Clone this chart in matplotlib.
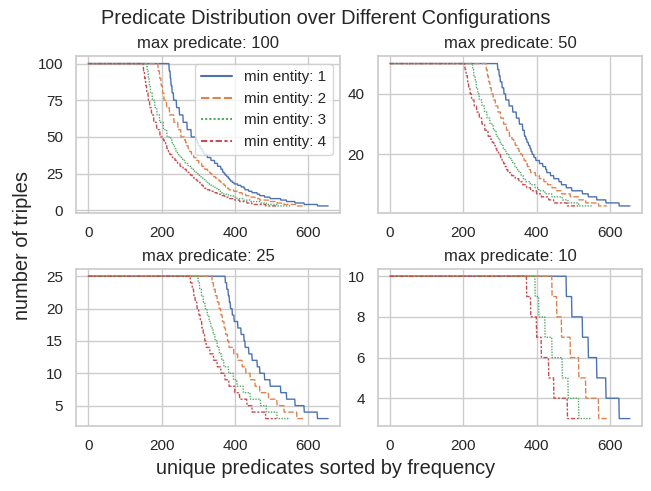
import numpy as np
import matplotlib
matplotlib.use("Agg")
import matplotlib.pyplot as plt
import seaborn as sns

# frequency levels (triples per predicate) and the rank where each level ends
levels = [100, 95, 90, 85, 80, 75, 70, 65, 60, 55, 50, 48, 46, 44, 42, 40, 38, 36,
          34, 32, 30, 28, 26, 25, 24, 23, 22, 21, 20, 19, 18, 17, 16, 15, 14, 13,
          12, 11, 10, 9, 8, 7, 6, 5, 4, 3]

ends_e1 = [221, 224, 226, 229, 233, 241, 249, 259, 270, 281, 294, 298, 301, 306,
           311, 316, 325, 335, 345, 353, 362, 367, 371, 374, 378, 382, 385, 388,
           393, 398, 408, 417, 425, 428, 438, 447, 461, 468, 481, 496, 525, 541,
           564, 589, 625, 655]
ends_e2 = [191, 195, 199, 203, 207, 214, 222, 234, 245, 253, 263, 266, 269, 273,
           277, 282, 288, 295, 302, 310, 318, 326, 333, 338, 342, 347, 352, 357,
           362, 366, 371, 375, 380, 384, 397, 408, 420, 430, 442, 455, 468, 492,
           515, 534, 569, 592]
ends_e3 = [161, 164, 167, 170, 175, 182, 188, 195, 205, 215, 226, 229, 233, 236,
           240, 244, 251, 258, 265, 273, 282, 290, 296, 300, 304, 309, 314, 319,
           325, 330, 335, 341, 346, 352, 358, 364, 370, 383, 396, 406, 423, 442,
           470, 486, 515, 551]
ends_e4 = [151, 154, 157, 160, 164, 168, 173, 179, 187, 196, 205, 208, 212, 215,
           219, 223, 230, 237, 244, 251, 259, 268, 275, 279, 284, 288, 292, 297,
           302, 306, 310, 314, 318, 322, 332, 342, 352, 362, 373, 384, 400, 413,
           433, 447, 484, 514]

min_entity = [1, 2, 3, 4]
max_predicate = [100, 50, 25, 10]
all_ends = [ends_e1, ends_e2, ends_e3, ends_e4]

sns.set_theme(style="whitegrid")
plt.rcParams['font.family'] = ['Liberation Sans', 'DejaVu Sans']
colors = sns.color_palette("deep")
dashes = [(None, None), (4, 1.5), (1, 1), (3, 1.25, 1.5, 1.25)]

fig, axes = plt.subplots(2, 2, figsize=(6.51, 4.91), dpi=100)
fig.subplots_adjust(left=0.117, right=0.986, top=0.885, bottom=0.133,
                    wspace=0.143, hspace=0.358)

for ax, cap in zip(axes.flat, max_predicate):
    for i, ends in enumerate(all_ends):
        counts = np.diff([0] + ends)
        y = np.minimum(np.repeat(levels, counts), cap)
        x = np.arange(len(y))
        line, = ax.plot(x, y, color=colors[i], lw=1, label=f"min entity: {min_entity[i]}")
        if dashes[i][0] is not None:
            line.set_dashes(dashes[i])
    ax.set_title(f"max predicate: {cap}", fontsize=12)
    ax.tick_params(labelsize=11)

leg = axes[0, 0].legend(loc="upper right", fontsize=11)
for h in leg.get_lines():
    h.set_linewidth(1.5)

fig.suptitle("Predicate Distribution over Different Configurations", fontsize=14.4,
             y=0.963, va="center")
fig.supxlabel("unique predicates sorted by frequency", fontsize=14.4, y=0.045, va="center")
fig.supylabel("number of triples", fontsize=14.4, x=0.035, ha="center")

fig.savefig("out.png", dpi=100)
